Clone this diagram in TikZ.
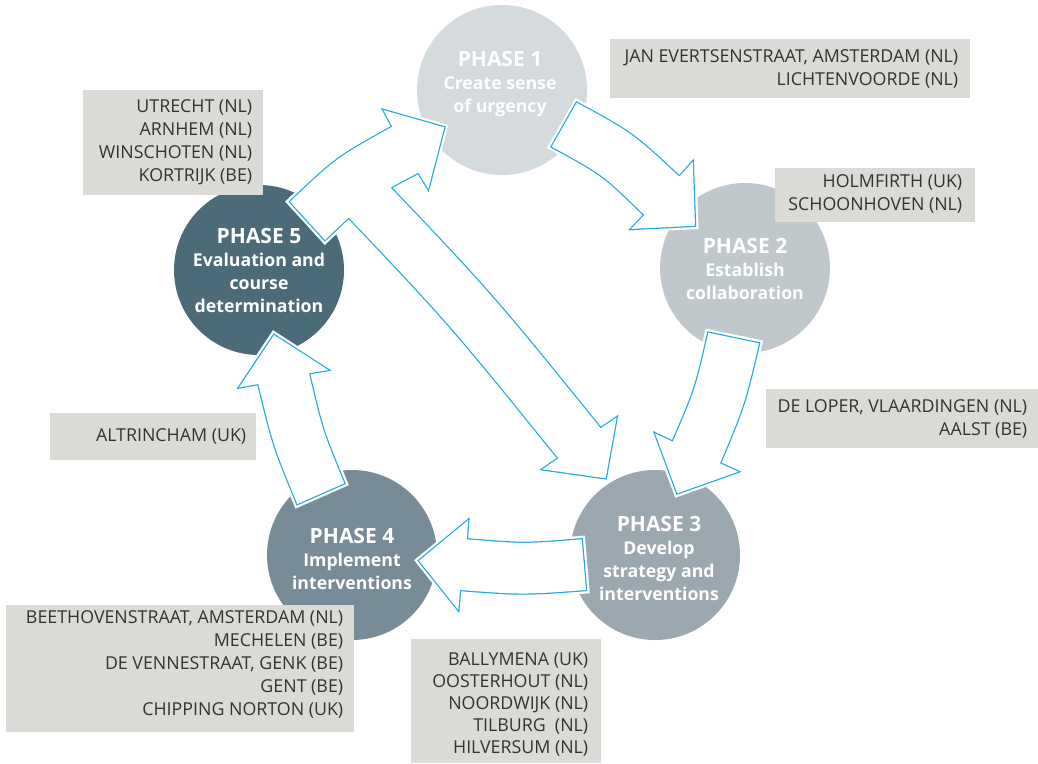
\documentclass[tikz,border=0pt]{standalone}
\usepackage{fontspec}
\setmainfont{Open Sans}
\definecolor{cA}{HTML}{D5DADC}
\definecolor{cB}{HTML}{C1C8CC}
\definecolor{cC}{HTML}{9CA8AF}
\definecolor{cD}{HTML}{778C96}
\definecolor{cE}{HTML}{4A6B77}
\definecolor{boxgrey}{HTML}{DADAD6}
\definecolor{arrowblue}{HTML}{1EA9E1}
\definecolor{txtgrey}{HTML}{333333}
\newcommand\phasehead[1]{{\fontsize{21}{23}\selectfont #1}}
\tikzset{
  phasecircle/.style={circle, minimum size=170pt, inner sep=0pt},
  phasetext/.style={text=white, align=center, inner sep=0pt,
    font=\bfseries\fontsize{17.7}{23}\selectfont},
  infobox/.style={fill=boxgrey, anchor=north west, inner sep=0pt},
  boxtext/.style={anchor=east, align=right, inner sep=0pt,
    text=txtgrey, font=\fontsize{17.8}{23}\selectfont},
  halo/.style={draw=white, line width=7pt, line join=miter},
  arrowline/.style={draw=arrowblue, line width=2.4pt, line join=miter},
  arrowfill/.style={fill=white},
}
\begin{document}
\begin{tikzpicture}[x=1pt,y=-1pt]
\useasboundingbox (0,0) rectangle (1038,763);

% circles
\node[phasecircle, fill=cA] (p1) at (502,90) {};
\node[phasecircle, fill=cB] (p2) at (745,268) {};
\node[phasecircle, fill=cC] (p3) at (655,555) {};
\node[phasecircle, fill=cD] (p4) at (352,555) {};
\node[phasecircle, fill=cE] (p5) at (259,270) {};

\node[phasetext] (t1) at (500,84) {\phasehead{PHASE 1}\\Create sense\\of urgency};
\node[phasetext] (t2) at (745,269) {\phasehead{PHASE 2}\\Establish\\collaboration};
\node[phasetext] (t3) at (659,558) {\phasehead{PHASE 3}\\Develop\\strategy and\\interventions};
\node[phasetext] (t4) at (352,559) {\phasehead{PHASE 4}\\Implement\\interventions};
\node[phasetext] (t5) at (259,270) {\phasehead{PHASE 5}\\Evaluation and\\course\\determination};

% block arrows
\def\arrA{(576.7,102.7) .. controls (632.7,133.2) .. (679.3,176.7) -- (692.7,161.7) -- (695,225.7) -- (631,229) -- (644.3,215) .. controls (602.8,174.5) .. (551.7,146.7) -- cycle}
\def\arrB{(708.3,332.7) .. controls (695.5,388.9) .. (672.7,441.7) -- (655,433.3) -- (677.3,493.3) -- (738.3,471.7) -- (720,463.3) .. controls (744.5,404.9) .. (759,343.3) -- cycle}
\def\arrC{(581.7,539.3) .. controls (524.2,544) .. (466.7,539.3) -- (468.3,520) -- (419,560.7) -- (458.3,610) -- (460,590) .. controls (523,594.7) .. (586,590) -- cycle}
\def\arrD{(297.3,504) .. controls (273.3,445.5) .. (258.3,384) -- (239,387.5) -- (274,335) -- (328.3,370) -- (309,373.3) .. controls (322.2,429.7) .. (344.3,483.3) -- cycle}
\def\arrE{(290,201.7) .. controls (336.5,157.7) .. (392.3,126.7) -- (383.3,110) -- (444.3,127.3) -- (428.3,189) -- (418.3,172.7) .. controls (367,199.9) .. (325,240) -- cycle}
\def\arrF{(372,168) .. controls (491.7,293.6) .. (600.7,428.3) -- (616.7,417.3) -- (605.7,478.3) -- (542.3,469.3) -- (558.3,458.3) .. controls (449.7,323.7) .. (330.5,198.3) -- cycle}

\foreach \a in {\arrA,\arrB,\arrC,\arrD,\arrE,\arrF} {\path[halo] \a;}
\foreach \a in {\arrA,\arrB,\arrC,\arrD,\arrE,\arrF} {\path[arrowline] \a;}
\foreach \a in {\arrA,\arrB,\arrC,\arrD,\arrE,\arrF} {\path[arrowfill] \a;}

% boxes
\node[infobox, minimum width=360pt, minimum height=59pt] (b1) at (610,39) {};
\node[boxtext] (b1t) at ([xshift=-12pt]b1.east)
  {JAN EVERTSENSTRAAT, AMSTERDAM (NL)\\LICHTENVOORDE (NL)};
\node[infobox, minimum width=180pt, minimum height=105pt] (b5) at (83,90) {};
\node[boxtext] (b5t) at ([xshift=-11pt]b5.east)
  {UTRECHT (NL)\\ARNHEM (NL)\\WINSCHOTEN (NL)\\KORTRIJK (BE)};
\node[infobox, minimum width=200pt, minimum height=54pt] (b2) at (775,168) {};
\node[boxtext] (b2t) at ([xshift=-13pt,yshift=1pt]b2.east)
  {HOLMFIRTH (UK)\\SCHOONHOVEN (NL)};
\node[infobox, minimum width=272pt, minimum height=59pt] (b3r) at (766,389) {};
\node[boxtext] (b3rt) at ([xshift=-11pt]b3r.east)
  {DE LOPER, VLAARDINGEN (NL)\\AALST (BE)};
\node[infobox, minimum width=206pt, minimum height=47pt] (balt) at (50,413) {};
\node[boxtext] (baltt) at ([xshift=-10pt]balt.east) {ALTRINCHAM (UK)};
\node[infobox, minimum width=348pt, minimum height=127pt] (b4) at (6,605) {};
\node[boxtext] (b4t) at ([xshift=-11pt,yshift=4pt]b4.east)
  {BEETHOVENSTRAAT, AMSTERDAM (NL)\\MECHELEN (BE)\\DE VENNESTRAAT, GENK (BE)\\GENT (BE)\\CHIPPING NORTON (UK)};
\node[infobox, minimum width=190pt, minimum height=124pt] (b3b) at (411,639) {};
\node[boxtext, font=\fontsize{17.8}{22}\selectfont] (b3bt) at ([xshift=-13pt,yshift=-3pt]b3b.east)
  {BALLYMENA (UK)\\OOSTERHOUT (NL)\\NOORDWIJK (NL)\\TILBURG\ \ (NL)\\HILVERSUM (NL)};
\end{tikzpicture}
\end{document}
